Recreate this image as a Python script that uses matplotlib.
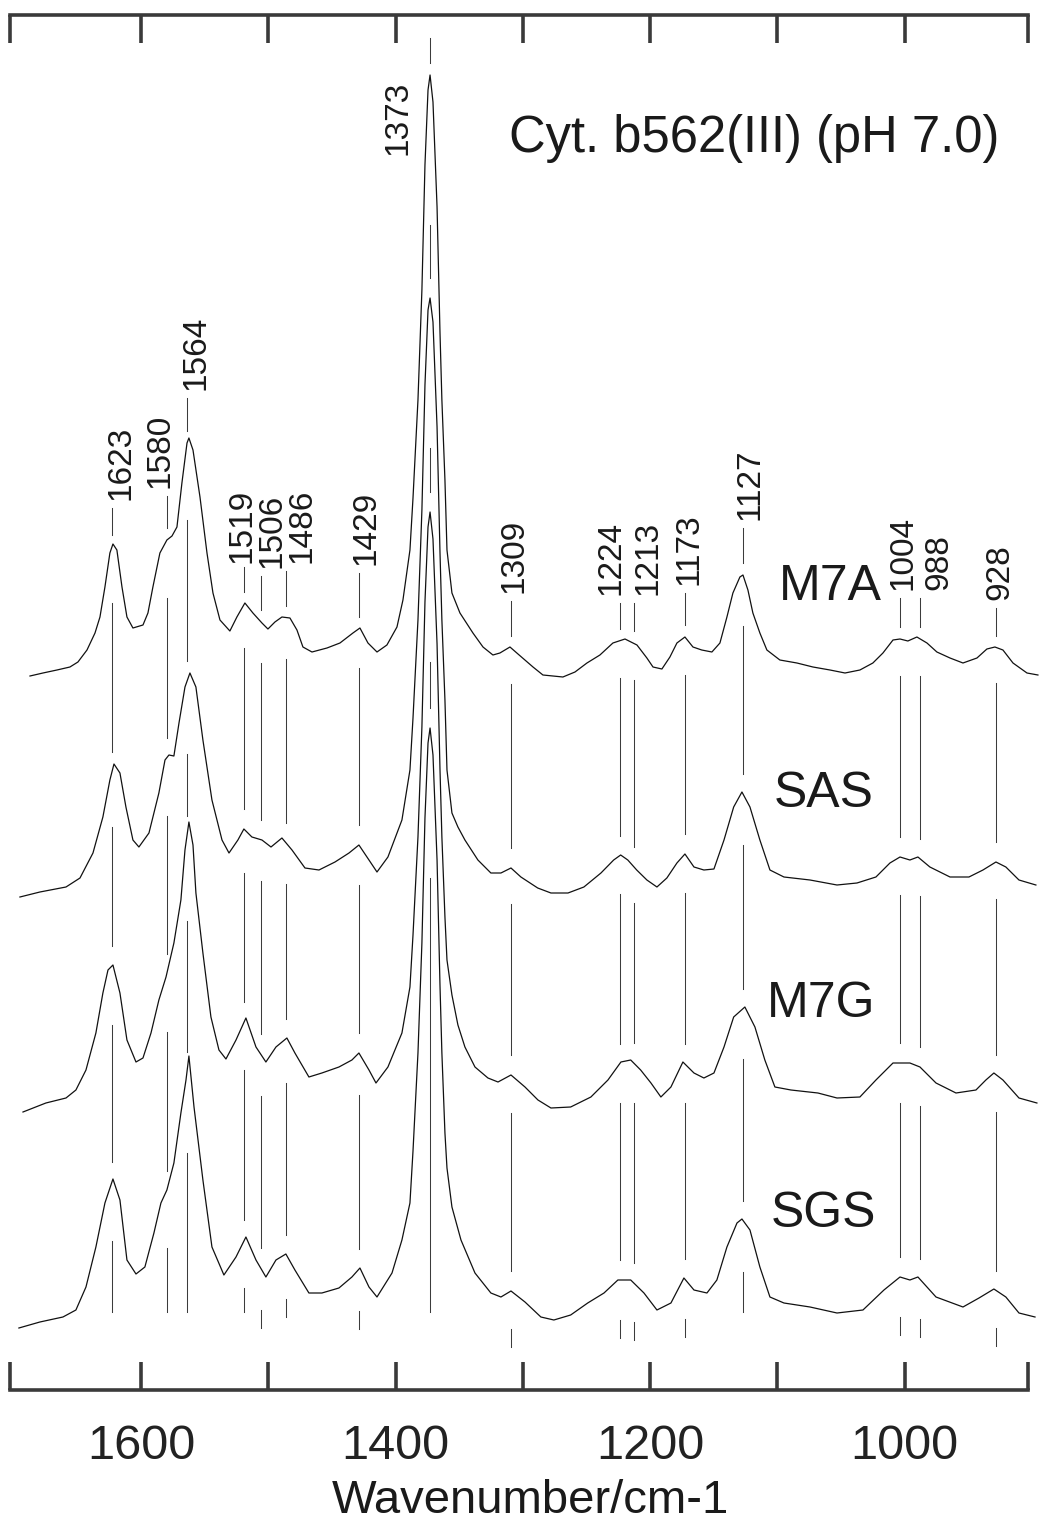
import numpy as np
import matplotlib
matplotlib.use('Agg')
import matplotlib.pyplot as plt
from matplotlib.ticker import FixedLocator, FixedFormatter

plt.rcParams['font.family'] = ['Liberation Sans', 'DejaVu Sans']

# ---------------- data (wavenumber / relative intensity) ----------------
m7a_wn = [1687.4, 1677.2, 1666.2, 1656.0, 1649.7, 1642.6, 1636.3, 1632.4, 1628.5, 1624.6, 1622.2,
          1619.1, 1615.1, 1611.2, 1606.5, 1598.6, 1594.7, 1590.8, 1585.3, 1579.8, 1575.8, 1571.9,
          1568.0, 1564.0, 1562.5, 1559.3, 1553.8, 1548.3, 1543.6, 1538.1, 1530.3, 1524.8, 1518.5,
          1512.2, 1505.1, 1500.4, 1494.9, 1489.4, 1483.1, 1477.6, 1472.9, 1465.8, 1454.0, 1443.8,
          1433.6, 1428.1, 1421.8, 1414.7, 1406.9, 1399.0, 1394.3, 1388.8, 1386.4, 1382.5, 1379.4,
          1377.0, 1374.6, 1373.0, 1370.7, 1367.5, 1365.2, 1363.7, 1361.3, 1359.7, 1355.8, 1349.5,
          1339.3, 1331.4, 1323.6, 1318.1, 1310.2, 1303.9, 1292.1, 1284.3, 1268.6, 1259.1, 1249.7,
          1239.5, 1229.3, 1219.8, 1210.4, 1202.6, 1197.8, 1190.8, 1184.5, 1179.0, 1172.7, 1166.4,
          1159.5, 1151.5, 1145.2, 1139.7, 1135.0, 1129.5, 1127.1, 1123.2, 1119.3, 1113.8, 1108.3,
          1098.1, 1084.7, 1072.1, 1058.7, 1046.9, 1035.2, 1025.0, 1017.1, 1009.2, 1003.7, 997.5,
          990.4, 982.5, 974.7, 964.4, 954.2, 943.2, 935.4, 929.1, 922.8, 914.9, 903.9, 895.3]
m7a_int = [0, 3, 6, 9, 14, 26, 43, 59, 89, 123, 132,
           126, 89, 59, 48, 51, 63, 89, 123, 136, 140, 149,
           193, 233, 238, 226, 179, 123, 83, 56, 45, 59, 73,
           63, 53, 47, 54, 59, 58, 46, 29, 24, 28, 33,
           43, 48, 33, 24, 31, 49, 76, 126, 178, 276, 386,
           511, 586, 601, 574, 469, 344, 276, 196, 126, 83, 63,
           43, 29, 21, 23, 29, 22, 9, 1, -1, 4, 13,
           21, 33, 37, 31, 18, 9, 7, 19, 33, 39, 29,
           26, 24, 33, 59, 83, 99, 101, 86, 63, 43, 26,
           16, 13, 9, 6, 3, 6, 13, 23, 36, 37, 35,
           39, 33, 24, 18, 13, 18, 27, 29, 26, 13, 3, 1]

sas_wn = [1695.3, 1679.6, 1659.1, 1648.1, 1637.9, 1630.1, 1624.6, 1621.4, 1616.7, 1612.0, 1606.5,
          1601.8, 1593.9, 1586.1, 1581.3, 1578.2, 1574.3, 1570.3, 1565.6, 1561.7, 1557.0, 1551.5,
          1544.4, 1536.5, 1531.0, 1524.0, 1519.3, 1513.0, 1505.1, 1498.0, 1489.4, 1481.5, 1471.3,
          1460.3, 1447.7, 1436.7, 1428.9, 1421.0, 1414.7, 1406.1, 1395.1, 1388.8, 1386.4, 1382.5,
          1379.4, 1377.0, 1374.6, 1373.0, 1370.7, 1367.5, 1365.2, 1363.7, 1361.3, 1359.7, 1355.8,
          1351.1, 1345.6, 1335.4, 1325.2, 1317.3, 1309.4, 1301.6, 1288.4, 1278.0, 1264.6, 1252.1,
          1238.7, 1228.7, 1223.2, 1217.6, 1210.6, 1202.6, 1194.7, 1186.9, 1179.0, 1172.7, 1165.6,
          1157.8, 1149.9, 1142.0, 1134.4, 1127.9, 1121.6, 1113.8, 1105.9, 1094.9, 1074.4, 1053.2,
          1037.5, 1022.6, 1011.6, 1003.7, 995.9, 989.6, 980.2, 964.4, 949.5, 938.5, 928.3, 920.5,
          910.2, 896.9]
sas_int = [0, 5, 10, 19, 44, 80, 117, 133, 124, 90, 57,
           50, 64, 104, 137, 142, 141, 174, 210, 224, 210, 157,
           97, 57, 44, 57, 68, 60, 57, 50, 59, 47, 29,
           27, 35, 44, 52, 37, 25, 40, 77, 127, 179, 277,
           387, 512, 587, 599, 575, 470, 345, 277, 197, 127, 84,
           70, 57, 37, 24, 24, 29, 20, 9, 4, 4, 10,
           24, 37, 42, 37, 27, 17, 10, 19, 34, 43, 30,
           27, 28, 57, 90, 105, 90, 57, 27, 20, 17, 12,
           14, 20, 34, 40, 37, 40, 30, 20, 20, 27, 35, 30,
           17, 12]

m7g_wn = [1692.9, 1674.9, 1659.1, 1651.3, 1643.4, 1635.6, 1630.1, 1626.1, 1622.2, 1616.7, 1611.2,
          1604.1, 1598.6, 1592.3, 1586.1, 1580.5, 1574.3, 1568.8, 1565.6, 1562.5, 1559.3, 1557.0,
          1551.5, 1545.2, 1538.9, 1533.4, 1525.5, 1517.7, 1509.8, 1502.0, 1494.1, 1485.5, 1479.2,
          1468.2, 1458.0, 1444.6, 1434.4, 1428.9, 1421.0, 1415.5, 1406.1, 1395.1, 1388.8, 1386.4,
          1382.5, 1379.4, 1377.0, 1374.6, 1373.0, 1370.7, 1367.5, 1365.2, 1363.7, 1361.3, 1359.7,
          1355.8, 1351.1, 1345.6, 1337.7, 1327.5, 1319.6, 1309.4, 1298.4, 1288.2, 1278.0, 1262.5,
          1246.6, 1233.2, 1223.0, 1215.3, 1207.5, 1199.4, 1191.6, 1183.7, 1174.3, 1165.6, 1157.8,
          1149.9, 1142.0, 1134.4, 1125.6, 1117.7, 1109.9, 1102.0, 1089.4, 1068.2, 1053.2, 1035.2,
          1022.6, 1009.2, 995.9, 988.0, 975.4, 959.7, 944.0, 936.2, 929.9, 922.8, 910.2, 896.1]
m7g_int = [0, 9, 14, 22, 42, 79, 119, 142, 147, 119, 72,
           50, 54, 79, 112, 135, 169, 212, 262, 290, 267, 219,
           159, 95, 62, 53, 72, 94, 65, 50, 65, 74, 59,
           35, 39, 45, 52, 59, 42, 29, 45, 79, 125, 177,
           275, 385, 510, 585, 600, 573, 468, 343, 275, 195, 152,
           117, 87, 65, 45, 34, 30, 37, 25, 12, 4, 5,
           15, 32, 50, 52, 42, 29, 15, 25, 50, 39, 34,
           39, 65, 95, 105, 85, 52, 25, 22, 19, 14, 15,
           32, 49, 49, 45, 29, 19, 22, 32, 39, 32, 14, 9]

sgs_wn = [1696.1, 1679.6, 1661.5, 1651.3, 1643.4, 1635.6, 1628.5, 1622.2, 1616.7, 1611.2, 1604.1,
          1597.1, 1590.0, 1584.5, 1579.8, 1574.3, 1568.8, 1564.8, 1562.5, 1558.5, 1551.5, 1544.4,
          1535.0, 1525.5, 1517.7, 1509.8, 1502.0, 1494.1, 1486.3, 1479.2, 1468.2, 1458.0, 1444.6,
          1434.4, 1428.1, 1421.0, 1414.7, 1402.9, 1395.1, 1388.8, 1386.4, 1382.5, 1379.4, 1377.0,
          1374.6, 1373.0, 1370.7, 1367.5, 1365.2, 1363.7, 1361.3, 1359.7, 1355.8, 1348.7, 1337.7,
          1325.2, 1317.3, 1309.4, 1298.4, 1285.9, 1275.7, 1262.5, 1249.1, 1236.3, 1225.4, 1215.3,
          1204.9, 1194.7, 1183.7, 1173.5, 1165.6, 1155.4, 1147.6, 1139.7, 1131.8, 1127.9, 1121.6,
          1113.8, 1105.9, 1094.9, 1074.4, 1053.2, 1032.8, 1016.3, 1003.7, 995.9, 989.6, 975.4,
          954.2, 941.6, 929.9, 920.5, 910.2, 897.6]
sgs_int = [0, 6, 11, 18, 41, 81, 125, 149, 128, 68, 54,
           61, 95, 125, 138, 165, 215, 248, 272, 221, 148, 81,
           53, 71, 91, 68, 51, 68, 74, 58, 35, 35, 40,
           51, 60, 41, 31, 55, 88, 125, 177, 275, 385, 510,
           585, 600, 573, 468, 343, 275, 195, 160, 121, 88, 55,
           35, 31, 37, 26, 11, 8, 13, 25, 35, 48, 48,
           35, 18, 25, 50, 38, 35, 48, 81, 105, 109, 98,
           61, 31, 25, 21, 15, 18, 38, 51, 48, 51, 31,
           21, 30, 39, 31, 15, 11]

series_names = ['M7A', 'SAS', 'M7G', 'SGS']
series_wn = [m7a_wn, sas_wn, m7g_wn, sgs_wn]
series_int = [m7a_int, sas_int, m7g_int, sgs_int]

peak_positions = [1623, 1580, 1564, 1519, 1506, 1486, 1429, 1373,
                  1309, 1224, 1213, 1173, 1127, 1004, 988, 928]
peak_labels = [str(p) for p in peak_positions]

tick_values = [1600, 1400, 1200, 1000]
title_text = 'Cyt. b562(III) (pH 7.0)'
xlabel_text = 'Wavenumber/cm-1'

# ---------------- layout ----------------
offsets = [714, 493, 278, 62]            # vertical stacking of the traces
label_x = [1615.9, 1585.2, 1556.9, 1520.8, 1497.2, 1473.6, 1423.3, 1398.2,
           1307.0, 1230.8, 1201.7, 1169.5, 1121.6, 1001.3, 973.0, 925.1]
label_y = [890, 902, 1000, 827, 822, 827, 825, 1235,
           797, 795, 795, 805, 870, 800, 800, 790]
name_pos = [(779, 600), (774, 807), (767, 1017), (771, 1227)]   # pixel positions

W, H = 1041, 1529
fig = plt.figure(figsize=(W / 100, H / 100), dpi=100)
ax = fig.add_axes([10 / W, 1 - 1390 / H, 1018 / W, (1390 - 14.5) / H])
ax.set_xlim(1703.1, 903.1)
ax.set_ylim(0, 1375.5)

spine_col = '#3a3a3a'
for s in ['left', 'right']:
    ax.spines[s].set_visible(False)
for s in ['top', 'bottom']:
    ax.spines[s].set_linewidth(2.6)
    ax.spines[s].set_color(spine_col)

major = [1703.1, 1600, 1500, 1400, 1300, 1200, 1100, 1000, 903.1]
ax.xaxis.set_major_locator(FixedLocator(major))
ax.xaxis.set_major_formatter(FixedFormatter(
    [str(v) if v in tick_values else '' for v in major]))
ax.tick_params(axis='x', direction='in', length=20, width=2.6, color=spine_col,
               top=True, bottom=True, labeltop=False, labelbottom=True,
               pad=24.5, labelsize=35, labelcolor='#222222')
ax.set_yticks([])

txt_col = '#1a1a1a'
line_col = '#3c3c3c'

# traces
for wn, inten, off in zip(series_wn, series_int, offsets):
    ax.plot(wn, np.array(inten, float) + off, color='#111111', lw=0.9,
            clip_on=False, solid_joinstyle='round')

# marker lines and labels
def val(k, p):
    wn = np.array(series_wn[k])[::-1]
    it = np.array(series_int[k], float)[::-1]
    return float(np.interp(p, wn, it))

for p, lab, lx, ly in zip(peak_positions, peak_labels, label_x, label_y):
    vals = [val(k, p) for k in range(4)]
    ys = [offsets[k] + vals[k] for k in range(4)]
    top = max(ly - 8, ys[0] + 37)
    ax.plot([p, p], [ys[0] + 12, top], color=line_col, lw=0.75)
    for k in range(3):
        a = ys[k] - (30 + 0.2 * vals[k])
        b = ys[k + 1] + 20
        if a > b:
            ax.plot([p, p], [b, a], color=line_col, lw=0.75)
    a = ys[3] - (30 + 0.2 * vals[3])
    b = min(78, a - 18)
    ax.plot([p, p], [b, a], color=line_col, lw=0.75)
    ax.text(lx, ly, lab, rotation=90, ha='center', va='bottom',
            fontsize=24, color=txt_col)

for name, (px, py) in zip(series_names, name_pos):
    fig.text(px / W, 1 - py / H, name, ha='left', va='baseline',
             fontsize=36, color=txt_col)

fig.text(509 / W, 1 - 152 / H, title_text, ha='left', va='baseline',
         fontsize=36.5, color=txt_col)
fig.text(530 / W, 1 - 1513 / H, xlabel_text, ha='center', va='baseline',
         fontsize=34, color=txt_col)

fig.savefig('out.png', dpi=100, facecolor='white')
